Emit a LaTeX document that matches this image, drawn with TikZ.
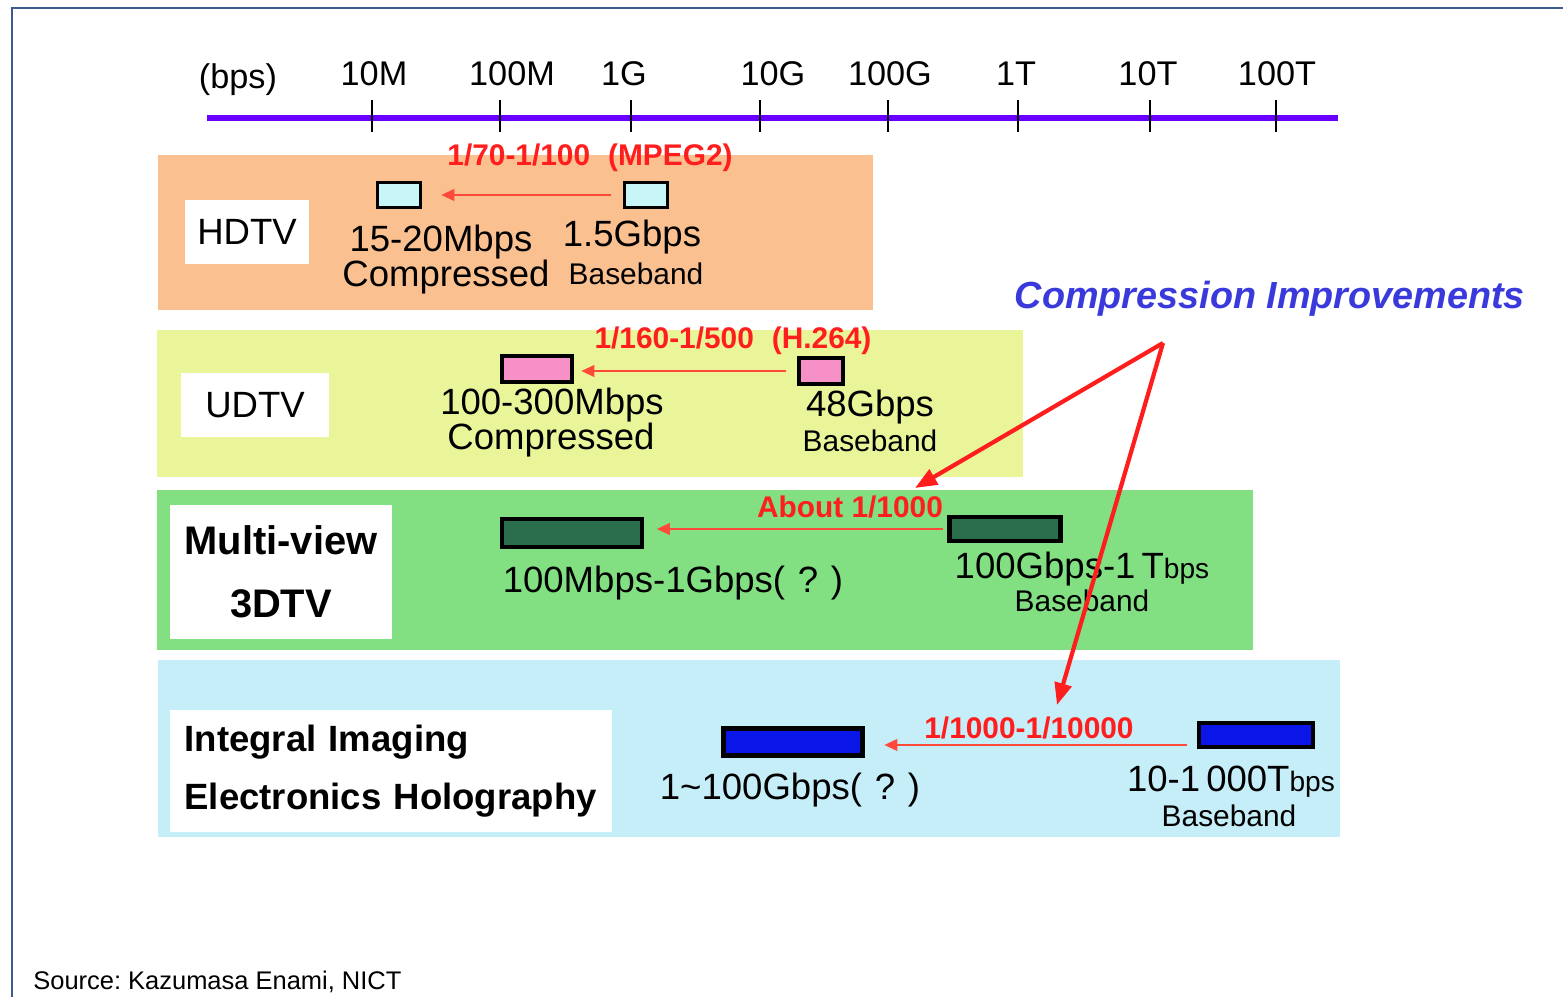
\documentclass[tikz,border=0pt]{standalone}
\usepackage{fontspec}
\setmainfont{Liberation Sans}
\usetikzlibrary{arrows.meta,positioning}
\definecolor{tvframe}{HTML}{3C5A8C}
\definecolor{tvaxis}{HTML}{6A00FF}
\definecolor{tvorange}{HTML}{FAC090}
\definecolor{tvlime}{HTML}{EAF59A}
\definecolor{tvgreen}{HTML}{82E082}
\definecolor{tvsky}{HTML}{C6EEF8}
\definecolor{tvcyan}{HTML}{C8F6F8}
\definecolor{tvpink}{HTML}{F890C8}
\definecolor{tvdark}{HTML}{2A6E4E}
\definecolor{tvblue}{HTML}{0A16E8}
\definecolor{tvred}{HTML}{FF1E1E}
\definecolor{tvarrow}{HTML}{FF4A3A}
\definecolor{tvtext}{HTML}{3A3ADC}
\frenchspacing

\begin{document}
\begin{tikzpicture}[
  x=0.02cm, y=-0.02cm,
  txt/.style={inner sep=0pt, font=\fontsize{20.8}{22}\selectfont},
  bb/.style={inner sep=0pt, font=\fontsize{17}{18}\selectfont},
  axlab/.style={inner sep=0pt, font=\fontsize{19.5}{20}\selectfont},
  ratio/.style={inner sep=0pt, text=tvred, font=\bfseries\fontsize{17}{18}\selectfont},
  tag/.style={fill=white, inner sep=0pt, align=center, font=\fontsize{20.8}{22}\selectfont},
  rate/.style={draw=black, line width=2pt, inner sep=0pt,
               minimum width=0.88cm, minimum height=0.52cm},
  gain/.style={draw=tvarrow, line width=1.3pt, -{Triangle[length=2.6mm,width=2.3mm]}},
  pointer/.style={draw=tvred, line width=2.4pt, -{Triangle[length=4.4mm,width=3.4mm]}},
  cmp/.style={inner sep=0pt, text=tvtext, font=\bfseries\itshape\fontsize{21.5}{22}\selectfont},
]
\useasboundingbox (0,0) rectangle (1563,997);

% ===== frame =====
\draw[tvframe, line width=1.2pt] (12,997) -- (12,8) -- (1563,8);

% ===== bit-rate axis =====
\draw[tvaxis, line width=3.4pt] (207,118) -- (1338,118);
\node[axlab] (bps) at (238,80) {(bps)};
\foreach \t/\l/\lab in {372/374/10M, 500/512/100M, 631/624/1G, 760/773/10G,
                        888/890/100G, 1018/1016/1T, 1150/1148/10T, 1276/1277/100T}{
  \draw[line width=0.8pt] (\t,100) -- (\t,132);
  \node[axlab] (l\lab) at (\l,74) {\lab};
}

% ===== bands =====
\fill[tvorange] (158,155) rectangle (873,310);
\fill[tvlime]   (157,330) rectangle (1023,477);
\fill[tvgreen]  (157,490) rectangle (1253,650);
\fill[tvsky]    (158,660) rectangle (1340,837);

% ===== HDTV =====
\node[tag, minimum width=2.48cm, minimum height=1.3cm] (hd) at (247,232) {HDTV};
\node[rate, fill=tvcyan, minimum width=0.86cm, minimum height=0.5cm] (hdc) at (399,195) {};
\node[rate, fill=tvcyan, minimum width=0.86cm, minimum height=0.5cm] (hdb) at (646,195) {};
\draw[gain, shorten <=0.24cm, shorten >=0.38cm] (hdb.west) -- (hdb.west -| hdc.east);
\node[ratio] (hdr) at (590,158) {1/70-1/100\hspace{0.6em}(MPEG2)};
\node[txt] (hdcv) at (441,242) {15-20Mbps};
\node[txt] (hdct) at (446,277) {Compressed};
\node[txt] (hdbv) at (632,237) {1.5Gbps};
\node[bb]  (hdbt) at (636,274) {Baseband};

% ===== UDTV =====
\node[tag, minimum width=2.98cm, minimum height=1.28cm] (ud) at (255,405) {UDTV};
\node[rate, fill=tvpink, minimum width=1.4cm] (udc) at (537,369) {};
\node[rate, fill=tvpink] (udb) at (821,371) {};
\draw[gain, shorten <=0.22cm, shorten >=0.15cm] (udb.west) -- (udb.west -| udc.east);
\node[ratio] (udr) at (733,341) {1/160-1/500\hspace{0.6em}(H.264)};
\node[txt] (udcv) at (552,405) {100-300Mbps};
\node[txt] (udct) at (551,440) {Compressed};
\node[txt] (udbv) at (870,407) {48Gbps};
\node[bb]  (udbt) at (870,441) {Baseband};

% ===== multi-view 3DTV =====
\node[tag, minimum width=4.46cm, minimum height=2.7cm,
      font=\bfseries\fontsize{22.7}{36}\selectfont] (mv) at (281,572) {Multi-view\\3DTV};
\node[rate, fill=tvdark, line width=2.6pt, minimum width=2.8cm, minimum height=0.56cm] (mvc) at (572,533) {};
\node[rate, fill=tvdark, line width=2.6pt, minimum width=2.22cm, minimum height=0.48cm] (mvb) at (1005,529) {};
\draw[gain, shorten <=0.09cm, shorten >=0.25cm] (mvb.west) -- (mvb.west -| mvc.east);
\node[ratio] (mvr) at (850,507) {About 1/1000};
\node[txt] (mvcv) at (673,583) {100Mbps-1Gbps(\hspace{0.35em}?\hspace{0.35em})};
\node[txt] (mvbv) at (1082,569) {100Gbps-1\,T{\fontsize{16}{16}\selectfont bps}};
\node[bb]  (mvbt) at (1082,601) {Baseband};

% ===== integral imaging / holography =====
\node[tag, minimum width=8.86cm, minimum height=2.46cm, text width=8.26cm, align=left,
      inner xsep=0.3cm, font=\bfseries\fontsize{20.8}{33}\selectfont] (ho) at (391,771)
  {Integral Imaging\\Electronics Holography};
\node[rate, fill=tvblue, line width=2.6pt, minimum width=2.78cm, minimum height=0.54cm] (hoc) at (793,742) {};
\node[rate, fill=tvblue, line width=2.6pt, minimum width=2.28cm, minimum height=0.48cm] (hob) at (1256,735) {};
\draw[gain, shorten <=0.19cm, shorten >=0.39cm] ([yshift=-0.2cm]hob.west) -- ([yshift=-0.2cm]hob.west -| hoc.east);
\node[ratio] (hor) at (1029,728) {1/1000-1/10000};
\node[txt] (hocv) at (790,790) {1\textasciitilde 100Gbps(\hspace{0.35em}?\hspace{0.35em})};
\node[txt] (hobv) at (1231,782) {10-1\,000T{\fontsize{16}{16}\selectfont bps}};
\node[bb]  (hobt) at (1229,816) {Baseband};

% ===== compression improvements =====
\node[cmp] (cimp) at (1270,299) {Compression Improvements};
\coordinate (fork) at (1163,343);
\coordinate (to3d) at (915,488);
\coordinate (toho) at (1057,705);
\draw[pointer] (fork) -- (to3d);
\draw[pointer] (fork) -- (toho);

% ===== source =====
\node[inner sep=0pt, anchor=west, font=\fontsize{14.5}{16}\selectfont] (src) at (33,982)
  {Source: Kazumasa Enami, NICT};

\end{tikzpicture}
\end{document}
